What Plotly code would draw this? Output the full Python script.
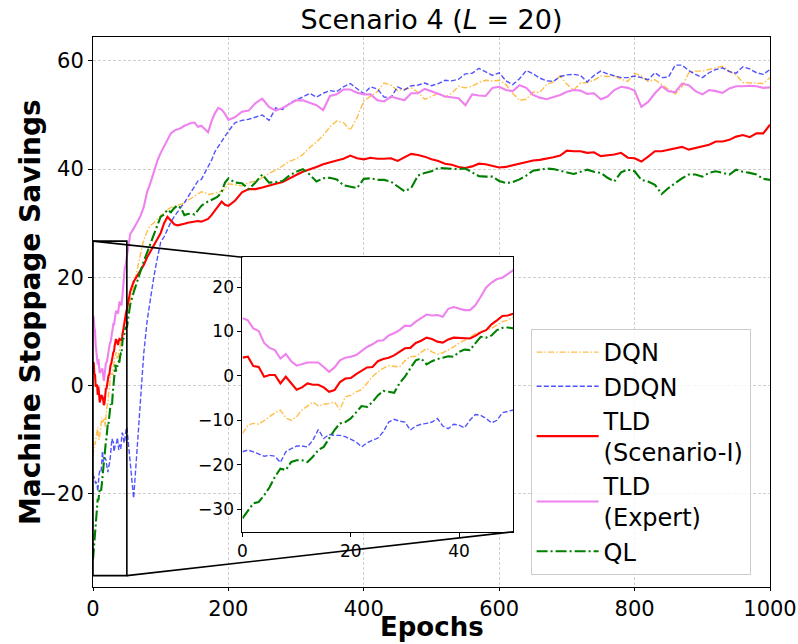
import plotly.graph_objects as go

# ---------------- data ----------------
epochs = list(range(0, 51)) + list(range(55, 201, 5)) + list(range(210, 1001, 10))

dqn = [
    -13.0, -11.1, -10.7, -10.9, -10.1, -9.2, -8.3, -7.7, -9.5, -10.0, -9.2,
    -7.7, -6.8, -5.9, -6.8, -6.4, -6.2, -5.9, -7.6, -4.7, -4.4,
    -3.6, -3.1, -1.6, -0.2, 0.9, 1.7, 2.3, 2.2, 2.0, 3.4,
    4.3, 4.4, 5.4, 6.2, 5.4, 4.9, 5.2, 5.8, 6.5, 7.4,
    8.0, 8.6, 9.5, 9.9, 10.3, 10.7, 11.4, 12.2, 12.5, 13.3,
    15.6, 18.2, 21.3, 24.4, 27.0, 28.5, 29.6, 30.1, 30.8, 31.4,
    31.8, 32.5, 32.9, 33.1, 33.3, 33.4, 33.7, 34.2, 34.6, 35.1,
    35.5, 35.8, 35.7, 35.3, 35.4, 35.6, 35.7, 35.9, 36.4, 37.3,
    37.1, 36.9, 37.5, 37.8, 38.4, 39.2, 39.8, 40.6, 41.4, 41.9,
    42.7, 44.0, 45.0, 46.2, 47.8, 48.9, 48.6, 47.2, 49.5, 52.6,
    53.4, 54.3, 55.9, 55.5, 54.5, 54.7, 55.0, 54.2, 52.9, 53.4,
    54.0, 53.3, 54.0, 55.3, 55.0, 55.3, 56.0, 56.4, 56.3, 56.4,
    55.6, 54.0, 52.7, 52.9, 54.2, 54.2, 55.6, 56.1, 57.2, 55.7,
    54.6, 55.9, 56.0, 56.4, 57.2, 57.1, 57.2, 56.6, 56.2, 57.7,
    57.2, 56.2, 56.5, 55.6, 54.8, 53.9, 55.2, 57.8, 58.1, 58.1,
    58.4, 58.7, 59.0, 58.1, 57.4, 56.0, 55.9, 55.9, 55.8, 56.9,
]

ddqn = [
    -17.1, -16.7, -17.1, -17.6, -18.1, -17.9, -18.1, -19.5, -17.1, -16.4, -15.8,
    -15.8, -16.0, -14.5, -12.1, -14.1, -13.2, -13.4, -13.4, -13.7, -14.3,
    -14.9, -16.0, -15.1, -14.5, -14.0, -12.6, -10.4, -9.8, -10.2, -10.4,
    -12.2, -11.3, -10.9, -10.7, -10.4, -9.6, -11.3, -11.9, -10.9, -11.1,
    -11.7, -10.0, -8.7, -8.9, -9.6, -10.6, -10.0, -8.3, -8.0, -7.7,
    -15.0, -20.8, -12.0, -2.5, 6.0, 12.0, 16.5, 20.2, 23.5, 26.5,
    27.5, 29.0, 30.2, 31.2, 32.2, 33.0, 33.8, 34.8, 35.8, 37.0,
    37.8, 38.1, 39.3, 40.3, 41.6, 43.2, 44.2, 45.2, 46.0, 47.0,
    48.6, 49.0, 49.2, 49.6, 50.0, 49.0, 51.3, 51.0, 52.1, 52.8,
    53.3, 54.0, 53.3, 54.0, 54.5, 54.3, 55.2, 55.8, 54.8, 53.9,
    55.2, 54.8, 53.3, 53.2, 55.2, 54.6, 55.4, 55.5, 55.9, 55.4,
    55.8, 56.4, 56.3, 56.6, 57.6, 57.7, 58.6, 57.9, 57.3, 57.8,
    56.3, 55.6, 56.7, 58.2, 57.6, 56.8, 56.3, 56.2, 57.1, 57.4,
    57.5, 57.3, 56.1, 57.3, 58.1, 57.6, 57.2, 56.9, 56.9, 57.2,
    56.9, 56.5, 57.8, 56.9, 57.0, 59.2, 59.2, 58.2, 57.5, 56.9,
    57.8, 58.4, 58.7, 58.0, 57.7, 58.9, 58.5, 57.8, 57.5, 58.4,
]

tld_scenario = [
    4.1, 4.3, 2.2, 2.0, -0.2, 0.2, 0.2, -1.7, -0.2, -1.7, -3.1,
    -2.6, -1.7, -2.0, -2.0, -2.6, -3.6, -3.2, -1.4, -0.6, -0.5,
    0.4, 1.1, 1.9, 2.0, 3.3, 3.8, 4.1, 4.6, 5.4, 6.2,
    6.3, 7.4, 7.9, 8.6, 8.3, 7.7, 7.5, 8.2, 8.6, 8.5,
    8.4, 8.4, 9.0, 9.8, 10.3, 11.6, 12.5, 13.5, 13.6, 14.0,
    17.4, 19.2, 20.3, 21.3, 22.3, 23.7, 24.8, 25.8, 26.9, 28.2,
    30.0, 31.2, 30.5, 29.8, 29.6, 29.7, 29.9, 30.1, 30.2, 30.3,
    30.4, 30.3, 30.5, 30.8, 31.5, 32.3, 33.3, 34.0, 33.4, 33.2,
    34.2, 35.7, 36.3, 36.3, 36.6, 37.0, 37.3, 37.6, 38.3, 38.9,
    39.5, 39.9, 40.4, 40.9, 41.3, 41.6, 41.9, 42.5, 42.0, 41.8,
    42.1, 41.9, 41.9, 42.0, 41.5, 42.1, 42.8, 42.6, 42.3, 41.8,
    41.5, 41.0, 40.8, 40.4, 40.2, 40.5, 41.0, 40.9, 40.6, 40.3,
    40.4, 40.7, 41.0, 41.3, 41.6, 41.7, 41.9, 42.2, 42.5, 43.4,
    43.3, 43.3, 43.0, 43.1, 42.4, 42.5, 42.7, 43.0, 42.1, 42.0,
    41.4, 42.3, 43.3, 43.3, 43.6, 43.9, 44.1, 43.6, 43.9, 44.2,
    44.5, 45.1, 45.1, 45.4, 46.0, 46.3, 45.9, 46.6, 46.6, 48.2,
]

tld_expert = [
    13.0, 12.5, 10.7, 10.1, 7.4, 6.3, 5.8, 3.9, 4.9, 3.3, 2.3,
    2.6, 3.0, 3.0, 3.0, 2.0, 0.9, 1.9, 3.5, 4.1, 4.3,
    4.7, 5.6, 6.5, 7.1, 7.9, 8.0, 9.1, 9.6, 10.3, 11.3,
    11.2, 12.2, 13.1, 13.8, 13.6, 13.7, 13.3, 15.1, 15.5, 15.2,
    14.8, 14.8, 15.9, 17.8, 19.9, 21.0, 21.8, 22.1, 23.0, 23.8,
    28.0, 29.0, 30.3, 31.3, 33.0, 35.8, 37.5, 39.7, 41.5, 43.0,
    44.2, 45.4, 46.6, 47.1, 47.3, 47.6, 48.0, 48.3, 48.5, 48.6,
    47.8, 48.0, 47.4, 46.8, 48.8, 50.3, 51.3, 51.0, 50.2, 49.1,
    49.6, 50.6, 50.8, 52.2, 53.0, 51.5, 50.8, 51.3, 52.0, 52.7,
    52.7, 52.3, 51.8, 50.9, 53.5, 53.8, 54.7, 54.7, 54.1, 53.8,
    53.8, 52.7, 52.5, 53.4, 53.1, 52.7, 54.0, 54.0, 54.8, 54.4,
    53.9, 53.4, 53.3, 53.1, 51.8, 53.8, 53.6, 53.5, 55.0, 55.2,
    54.6, 54.4, 55.5, 55.0, 53.7, 53.2, 52.9, 53.3, 53.7, 54.3,
    54.6, 54.5, 53.9, 54.0, 52.9, 53.4, 54.6, 55.2, 55.0, 54.5,
    51.5, 52.4, 54.0, 55.3, 54.4, 54.2, 55.8, 55.5, 54.4, 53.8,
    54.6, 54.4, 54.1, 54.9, 55.3, 55.3, 55.4, 55.3, 55.0, 55.1,
]

ql = [
    -32.1, -30.4, -28.7, -28.4, -26.9, -25.1, -22.7, -20.9, -21.2, -19.4, -19.0,
    -19.0, -19.4, -18.2, -16.7, -16.0, -14.1, -12.2, -10.7, -10.4, -9.6,
    -8.3, -6.8, -7.0, -5.9, -4.4, -3.4, -3.6, -3.8, -1.7, -0.2,
    1.7, 3.5, 3.9, 2.6, 3.3, 3.8, 4.1, 4.4, 4.3, 5.4,
    5.9, 5.8, 7.3, 8.8, 8.6, 9.1, 10.3, 10.8, 10.9, 10.7,
    15.0, 17.2, 19.2, 21.2, 23.0, 24.6, 26.4, 28.2, 29.6, 31.2,
    31.6, 32.5, 32.0, 32.8, 33.3, 32.8, 31.5, 31.7, 31.8, 31.6,
    32.4, 33.2, 33.7, 34.0, 34.2, 34.6, 35.0, 35.8, 37.5, 38.3,
    37.5, 37.4, 36.3, 37.5, 39.0, 37.5, 37.6, 37.8, 38.8, 39.5,
    40.0, 39.0, 37.7, 38.3, 38.4, 38.1, 37.0, 36.8, 36.5, 38.2,
    38.3, 38.0, 38.0, 37.7, 36.8, 35.9, 36.5, 38.8, 39.3, 39.6,
    40.2, 40.1, 40.1, 40.0, 40.1, 39.4, 38.7, 38.6, 38.6, 37.8,
    37.4, 37.6, 38.1, 38.8, 39.7, 39.9, 40.1, 40.0, 39.7, 39.4,
    39.1, 39.5, 39.9, 39.5, 39.3, 38.4, 37.7, 39.4, 39.9, 39.6,
    38.0, 37.7, 37.1, 35.4, 36.5, 37.4, 38.3, 39.0, 39.0, 38.6,
    39.3, 39.6, 39.3, 39.0, 39.9, 39.5, 39.3, 39.0, 38.2, 38.0,
]

series_names = ["DQN", "DDQN", "TLD<br>(Scenario-I)", "TLD<br>(Expert)", "QL"]
series_values = [dqn, ddqn, tld_scenario, tld_expert, ql]

x_ticks_main = [0, 200, 400, 600, 800, 1000]
y_ticks_main = [-20, 0, 20, 40, 60]
x_ticks_inset = [0, 20, 40]
y_ticks_inset = [-30, -20, -10, 0, 10, 20]

# ---------------- styles ----------------
styles = [
    dict(color="rgba(255,165,0,0.72)", dash="6px,2px,1.5px,2px", width=1.4),
    dict(color="rgba(0,0,255,0.68)", dash="5px,2.2px", width=1.4),
    dict(color="#ff0000", dash="solid", width=2.1),
    dict(color="#ee82ee", dash="solid", width=2.1),
    dict(color="#008000", dash="11px,3px,2px,3px", width=2.1),
]

XR = [0, 1000]
YR = [-37.2, 64.4]
IXR = [0, 50]
IYR = [-35.1, 26.7]
IXD = [0.2208, 0.6207]
IYD = [0.1005, 0.5995]

FONT = "DejaVu Sans"

fig = go.Figure()

for name, vals, st in zip(series_names, series_values, styles):
    fig.add_trace(go.Scatter(
        x=epochs, y=vals, mode="lines", name=name, showlegend=False,
        line=dict(color=st["color"], dash=st["dash"], width=st["width"]),
        xaxis="x", yaxis="y", hoverinfo="skip",
    ))

for name, vals, st in zip(series_names, series_values, styles):
    fig.add_trace(go.Scatter(
        x=epochs, y=vals, mode="lines", name=name, showlegend=True,
        line=dict(color=st["color"], dash=st["dash"], width=st["width"]),
        xaxis="x2", yaxis="y2", hoverinfo="skip",
    ))


def main_to_paper(xv, yv):
    return ((xv - XR[0]) / (XR[1] - XR[0]), (yv - YR[0]) / (YR[1] - YR[0]))


shapes = [
    dict(type="rect", xref="x2", yref="y2", x0=IXR[0], x1=IXR[1], y0=IYR[0], y1=IYR[1],
         fillcolor="white", line=dict(width=0), layer="below"),
    dict(type="rect", xref="x", yref="y", x0=IXR[0], x1=IXR[1], y0=IYR[0], y1=IYR[1],
         line=dict(color="black", width=1.6), layer="above"),
]
p1 = main_to_paper(IXR[0], IYR[1])
p2 = main_to_paper(IXR[1], IYR[0])
shapes.append(dict(type="line", xref="paper", yref="paper", x0=p1[0], y0=p1[1],
                   x1=IXD[0], y1=IYD[1], line=dict(color="black", width=1.6), layer="above"))
shapes.append(dict(type="line", xref="paper", yref="paper", x0=p2[0], y0=p2[1],
                   x1=IXD[1], y1=IYD[0], line=dict(color="black", width=1.6), layer="above"))

grid_common = dict(showgrid=True, gridcolor="#cfcfcf", gridwidth=0.8, griddash="3px,2px")
ax_common = dict(ticks="outside", tickcolor="black", showline=True, mirror=True,
                 linecolor="black", zeroline=False, automargin=False)

fig.update_layout(
    width=798, height=644,
    margin=dict(l=93, r=28, t=37, b=57, autoexpand=False),
    paper_bgcolor="white", plot_bgcolor="white",
    font=dict(family=FONT, color="black"),
    title=dict(text="Scenario 4 (<i>L</i> = 20)", x=0.5, xref="paper", xanchor="center",
               y=1 - 20 / 644, yref="container", yanchor="middle",
               font=dict(size=27, family=FONT, color="black")),
    xaxis=dict(domain=[0, 1], range=XR, tickvals=x_ticks_main, ticklen=3, linewidth=1,
               tickfont=dict(size=21), **ax_common, **grid_common),
    yaxis=dict(domain=[0, 1], range=YR, tickvals=y_ticks_main, ticklen=4, linewidth=1,
               tickfont=dict(size=21), **ax_common, **grid_common),
    xaxis2=dict(domain=IXD, anchor="y2", range=IXR, tickvals=x_ticks_inset, ticklen=4,
                linewidth=1.2, showgrid=False, tickfont=dict(size=17), **ax_common),
    yaxis2=dict(domain=IYD, anchor="x2", range=IYR, tickvals=y_ticks_inset, ticklen=4,
                linewidth=1.2, showgrid=False, tickfont=dict(size=17), **ax_common),
    legend=dict(x=0.6464, xanchor="left", y=0.0218, yanchor="bottom",
                bgcolor="rgba(255,255,255,0.8)", bordercolor="#cccccc", borderwidth=1,
                font=dict(size=24, family=FONT), itemwidth=62, tracegroupgap=0),
    shapes=shapes,
    annotations=[
        dict(text="<b>Machine Stoppage Savings</b>", xref="paper", yref="paper",
             x=(30 - 93) / 677, y=0.5, xanchor="center", yanchor="middle",
             textangle=-90, showarrow=False, font=dict(size=28, family=FONT)),
        dict(text="<b>Epochs</b>", xref="paper", yref="paper",
             x=0.5, y=(587 - 643) / 550, xanchor="center", yanchor="bottom",
             showarrow=False, borderpad=0, font=dict(size=26, family=FONT)),
    ],
)

fig.write_html("out.html")
